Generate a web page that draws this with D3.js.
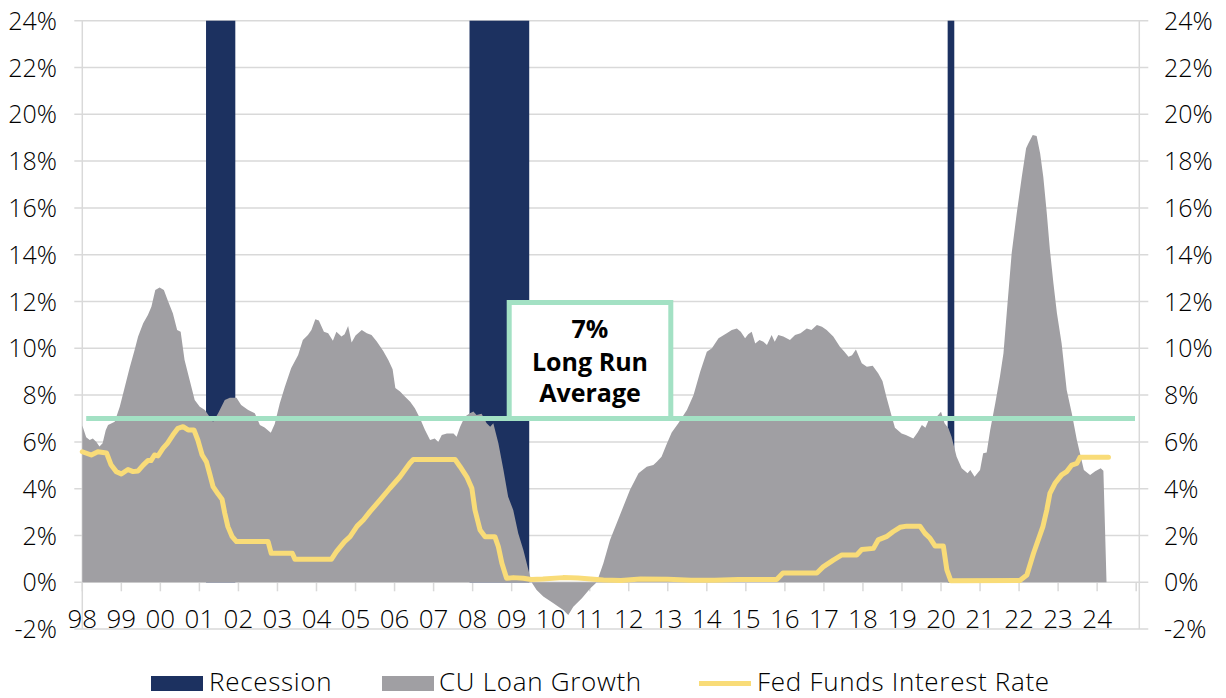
<!DOCTYPE html>
<html>
<head>
<meta charset="utf-8">
<script src="https://cdn.jsdelivr.net/npm/d3@7"></script>
<style>
  html, body { margin: 0; padding: 0; background: #fff; }
  svg { display: block; }
  text { font-family: "Open Sans", "DejaVu Sans", sans-serif; fill: #000; }
  .lbl { font-weight: 300; }
</style>
</head>
<body>
<svg id="chart" width="1226" height="698"></svg>
<script>
// ---------- DATA ----------
const yearLabels = ["98","99","00","01","02","03","04","05","06","07","08","09","10","11","12","13","14","15","16","17","18","19","20","21","22","23","24"];
const yTicks = [-2,0,2,4,6,8,10,12,14,16,18,20,22,24];

const recessionStart = [2001.17, 2007.92, 2020.17];
const recessionEnd   = [2001.92, 2009.45, 2020.34];

const loanDates = [1998.00,1998.10,1998.19,1998.27,1998.36,1998.44,1998.52,1998.60,1998.66,1998.83,1998.96,
1999.09,1999.21,1999.34,1999.43,1999.56,1999.68,1999.77,1999.87,1999.98,2000.09,2000.20,2000.32,2000.43,2000.52,
2000.62,2000.75,2000.88,2001.01,2001.14,2001.26,2001.35,2001.48,2001.65,2001.78,2001.95,2002.07,2002.25,2002.42,
2002.55,2002.67,2002.83,2002.93,2003.06,2003.19,2003.35,2003.53,2003.65,2003.78,2003.87,2003.97,2004.06,2004.19,
2004.30,2004.42,2004.51,2004.64,2004.72,2004.81,2004.90,2005.00,2005.16,2005.29,2005.41,2005.54,2005.71,2005.84,
2005.95,2006.02,2006.14,2006.27,2006.40,2006.52,2006.65,2006.78,2006.91,2007.03,2007.12,2007.21,2007.34,2007.51,
2007.59,2007.68,2007.80,2007.93,2008.02,2008.10,2008.23,2008.36,2008.45,2008.53,2008.66,2008.79,2008.91,2009.04,
2009.17,2009.30,2009.43,2009.51,2009.64,2009.81,2010.07,2010.32,2010.45,2010.58,2010.80,2011.01,2011.18,2011.35,
2011.52,2011.78,2012.03,2012.25,2012.46,2012.63,2012.72,2012.84,2012.97,2013.10,2013.27,2013.49,2013.66,2013.83,
2014.00,2014.13,2014.30,2014.51,2014.64,2014.77,2014.87,2014.98,2015.06,2015.15,2015.24,2015.35,2015.45,2015.54,
2015.66,2015.74,2015.83,2015.96,2016.13,2016.26,2016.40,2016.56,2016.68,2016.82,2016.95,2017.07,2017.24,2017.41,
2017.52,2017.63,2017.72,2017.82,2017.97,2018.10,2018.25,2018.39,2018.50,2018.60,2018.74,2018.82,2018.99,2019.10,
2019.29,2019.40,2019.51,2019.60,2019.72,2019.85,2020.00,2020.09,2020.19,2020.27,2020.40,2020.53,2020.68,2020.75,
2020.86,2021.00,2021.08,2021.17,2021.26,2021.39,2021.51,2021.60,2021.69,2021.81,2021.94,2022.07,2022.18,2022.24,
2022.35,2022.45,2022.54,2022.62,2022.71,2022.79,2022.88,2022.97,2023.09,2023.22,2023.35,2023.48,2023.56,2023.66,
2023.82,2023.95,2024.09,2024.16,2024.24];
const loanGrowth = [6.7,6.2,6.08,6.15,6.0,5.8,5.94,6.5,6.72,6.86,7.5,
8.36,9.15,9.93,10.5,11.07,11.42,11.78,12.49,12.6,12.49,12.0,11.5,10.78,10.71,
9.5,8.65,7.79,7.5,7.36,7.08,6.86,7.22,7.79,7.89,7.89,7.58,7.36,7.22,
6.72,6.62,6.39,6.76,7.65,8.36,9.15,9.71,10.35,10.57,10.78,11.24,11.19,10.71,
10.64,10.32,10.71,10.5,10.6,10.95,10.25,10.55,10.78,10.64,10.57,10.3,9.88,9.5,
9.1,8.3,8.15,7.93,7.72,7.44,7.01,6.51,6.08,6.15,6.0,6.29,6.36,6.36,
6.22,6.65,7.08,7.22,7.3,7.15,7.2,6.8,6.65,6.8,5.94,4.8,3.66,3.09,
2.09,1.38,0.53,0.0,-0.33,-0.61,-0.9,-1.18,-1.4,-1.04,-0.68,-0.26,0.0,0.81,
1.81,2.9,3.94,4.66,4.94,5.01,5.15,5.37,5.9,6.4,6.8,7.36,8.0,9.0,
9.85,10.0,10.43,10.64,10.78,10.85,10.71,10.43,10.6,10.71,10.21,10.36,10.28,10.14,
10.57,10.28,10.57,10.5,10.36,10.57,10.64,10.85,10.78,11.0,10.92,10.78,10.5,10.07,
9.86,9.64,9.7,9.95,9.36,9.21,9.25,8.93,8.6,7.93,7.08,6.6,6.36,6.29,
6.15,6.4,6.72,6.6,7.08,7.0,7.29,6.8,6.58,6.22,5.37,4.87,4.66,4.8,
4.51,4.8,5.51,5.55,6.51,7.65,8.79,9.79,11.64,14.06,15.77,17.33,18.55,18.76,
19.12,19.07,18.33,17.33,15.77,14.2,12.78,11.5,10.21,8.22,7.22,6.08,5.51,4.8,
4.59,4.75,4.87,4.77,0];

const fedDates = [1998.00,1998.23,1998.40,1998.62,1998.74,1998.87,1999.00,1999.17,1999.30,1999.43,1999.56,1999.68,
1999.76,1999.85,1999.94,2000.07,2000.18,2000.32,2000.45,2000.58,2000.71,2000.86,2000.96,2001.07,2001.18,2001.26,
2001.35,2001.48,2001.58,2001.65,2001.73,2001.84,2001.95,2002.76,2002.84,2003.38,2003.45,2004.38,2004.51,2004.72,
2004.86,2005.04,2005.20,2005.37,2005.63,2005.88,2006.14,2006.39,2006.48,2007.55,2007.68,2007.85,2007.98,2008.06,
2008.19,2008.32,2008.57,2008.66,2008.75,2008.87,2009.04,2009.30,2009.50,2009.80,2010.32,2010.70,2011.35,2011.80,
2012.30,2013.00,2013.60,2014.20,2014.80,2015.79,2015.95,2016.82,2016.98,2017.24,2017.46,2017.84,2017.97,2018.27,
2018.39,2018.60,2018.77,2018.95,2019.12,2019.46,2019.59,2019.72,2019.85,2020.06,2020.15,2020.25,2022.02,2022.20,
2022.37,2022.52,2022.61,2022.71,2022.79,2022.92,2023.09,2023.22,2023.35,2023.48,2023.56,2024.29];
const fedRate = [5.58,5.44,5.58,5.53,5.01,4.73,4.63,4.82,4.73,4.76,5.01,5.2,
5.2,5.44,5.4,5.73,5.94,6.29,6.58,6.65,6.51,6.51,6.08,5.44,5.15,4.66,
4.09,3.77,3.55,2.95,2.38,1.95,1.74,1.74,1.24,1.24,0.98,0.98,1.31,1.74,
1.95,2.4,2.66,3.02,3.52,4.02,4.51,5.09,5.25,5.25,4.94,4.51,4.02,3.09,
2.24,1.95,1.95,1.52,0.81,0.17,0.2,0.17,0.12,0.14,0.2,0.18,0.1,0.08,
0.14,0.13,0.09,0.09,0.12,0.12,0.4,0.4,0.66,0.95,1.17,1.17,1.4,1.45,
1.81,1.95,2.16,2.35,2.4,2.4,2.09,1.88,1.55,1.55,0.53,0.07,0.08,0.31,
1.24,1.95,2.38,3.09,3.8,4.23,4.59,4.73,5.01,5.08,5.34,5.34];

const longRunAverage = 7;
const averageSpan = [1998.1, 2024.97];
const annotationLines = ["7%", "Long Run", "Average"];
const legendItems = ["Recession", "CU Loan Growth", "Fed Funds Interest Rate"];

// ---------- CHART ----------
const svg = d3.select("#chart");
const plotL = 82.3, plotR = 1139.3, plotT = 20.7, plotB = 629.1;

const x = d3.scaleLinear().domain([1998, 2025.08]).range([plotL, plotR]);
const y = d3.scaleLinear().domain([-2, 24]).range([plotB, plotT]);

const colors = {
  grid: "#d9d9d9",
  recession: "#1c3160",
  area: "#a09fa3",
  fed: "#f9dc78",
  avg: "#a3e1c4"
};

// gridlines
svg.append("g").selectAll("line").data(yTicks).join("line")
  .attr("x1", plotL - 8).attr("x2", plotR + 9)
  .attr("y1", d => y(d)).attr("y2", d => y(d))
  .attr("stroke", colors.grid).attr("stroke-width", 1.5);

// vertical axis lines
[plotL, plotR].forEach(px => {
  svg.append("line").attr("x1", px).attr("x2", px).attr("y1", plotT).attr("y2", plotB)
    .attr("stroke", colors.grid).attr("stroke-width", 1.5);
});

// year ticks
const tickYears = d3.range(1998, 2026);
svg.append("g").selectAll("line").data(tickYears).join("line")
  .attr("x1", d => x(d)).attr("x2", d => x(d))
  .attr("y1", y(0)).attr("y2", y(0) + 9)
  .attr("stroke", colors.grid).attr("stroke-width", 1.5);

// recession bars
svg.append("g").selectAll("rect").data(recessionStart).join("rect")
  .attr("x", (d) => x(d))
  .attr("width", (d, i) => x(recessionEnd[i]) - x(d))
  .attr("y", y(24)).attr("height", y(0) - y(24))
  .attr("fill", colors.recession);

// loan growth area
const loanData = loanDates.map((d, i) => ({ t: d, v: loanGrowth[i] }));
const area = d3.area().x(d => x(d.t)).y0(y(0)).y1(d => y(d.v));
svg.append("path").datum(loanData).attr("d", area).attr("fill", colors.area);

// long run average line
svg.append("line")
  .attr("x1", x(averageSpan[0])).attr("x2", x(averageSpan[1]))
  .attr("y1", y(longRunAverage)).attr("y2", y(longRunAverage))
  .attr("stroke", colors.avg).attr("stroke-width", 5);

// annotation box
const boxL = 509.2, boxR = 670.8, boxT = 302.5;
svg.append("rect")
  .attr("x", boxL).attr("y", boxT)
  .attr("width", boxR - boxL).attr("height", y(longRunAverage) - boxT)
  .attr("fill", "#fff").attr("stroke", colors.avg).attr("stroke-width", 5);
const boxBaselines = [338, 371, 402];
svg.append("g").selectAll("text").data(annotationLines).join("text")
  .attr("x", (boxL + boxR) / 2).attr("y", (d, i) => boxBaselines[i])
  .attr("text-anchor", "middle")
  .style("font-weight", "700").style("font-size", "25px")
  .text(d => d);

// fed funds line
const fedData = fedDates.map((d, i) => ({ t: d, v: fedRate[i] }));
const line = d3.line().x(d => x(d.t)).y(d => y(d.v));
svg.append("path").datum(fedData).attr("d", line)
  .attr("fill", "none").attr("stroke", colors.fed).attr("stroke-width", 5)
  .attr("stroke-linejoin", "round").attr("stroke-linecap", "round");

// y axis labels (left & right)
const yLabelFont = 25;
svg.append("g").selectAll("text").data(yTicks).join("text")
  .attr("class", "lbl")
  .attr("x", 57).attr("y", d => y(d) + 9)
  .attr("text-anchor", "end").style("font-size", yLabelFont + "px")
  .text(d => d + "%");
svg.append("g").selectAll("text").data(yTicks).join("text")
  .attr("class", "lbl")
  .attr("x", 1164).attr("y", d => y(d) + 9)
  .attr("text-anchor", "start").style("font-size", yLabelFont + "px")
  .text(d => d + "%");

// x axis labels
svg.append("g").selectAll("text").data(yearLabels).join("text")
  .attr("class", "lbl")
  .attr("x", (d, i) => x(1998 + i)).attr("y", 628)
  .attr("text-anchor", "middle").style("font-size", "26px")
  .text(d => d);

// legend
const legend = svg.append("g");
const legendSwatchX = [151, 382, 699];
const legendTextX = [209, 439, 757];
legend.append("rect").attr("x", legendSwatchX[0]).attr("y", 676).attr("width", 52).attr("height", 15).attr("fill", colors.recession);
legend.append("rect").attr("x", legendSwatchX[1]).attr("y", 676).attr("width", 52).attr("height", 15).attr("fill", colors.area);
legend.append("line").attr("x1", legendSwatchX[2]).attr("x2", legendSwatchX[2] + 52).attr("y1", 683.5).attr("y2", 683.5)
  .attr("stroke", colors.fed).attr("stroke-width", 5);
legend.selectAll("text.leg").data(legendItems).join("text").attr("class", "leg lbl")
  .attr("x", (d, i) => legendTextX[i]).attr("y", 691)
  .style("font-size", "26px").style("letter-spacing", "0.7px")
  .text(d => d);
</script>
</body>
</html>
